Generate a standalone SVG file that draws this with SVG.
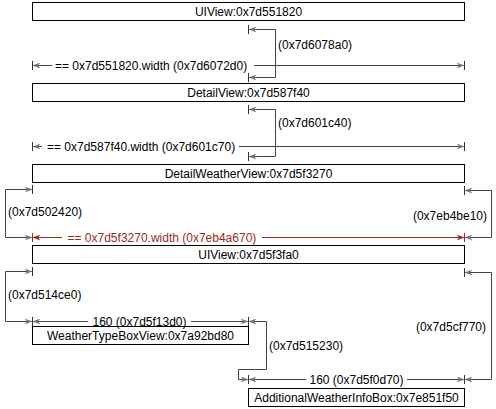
<svg xmlns="http://www.w3.org/2000/svg" width="496" height="409" viewBox="0 0 496 409">
<style>
.box{fill:#fff;stroke:#000;stroke-width:1}
.t{font-family:"Liberation Sans",Arial,sans-serif;font-size:12px;fill:#000}
.c{text-anchor:middle}
.e{text-anchor:end}
.ln{fill:none;stroke:#444;stroke-width:1}
.rl{fill:none;stroke:#a0291d;stroke-width:1}
.tk{stroke:#333;stroke-width:1}
.rtk{stroke:#a0291d;stroke-width:1}
.rt{fill:#a0291d}
</style>
<defs>
<marker id="a" markerUnits="userSpaceOnUse" markerWidth="8" markerHeight="6" refX="8" refY="3" orient="auto-start-reverse"><path d="M0,0 L8,3 L0,6 L2.5,3 z" fill="#777"/></marker>
<marker id="r" markerUnits="userSpaceOnUse" markerWidth="8" markerHeight="6" refX="8" refY="3" orient="auto-start-reverse"><path d="M0,0 L8,3 L0,6 L2.5,3 z" fill="#a0291d"/></marker>
</defs>
<g id="n1"><rect class="box" x="32.5" y="2.5" width="432" height="18"/><text class="t c" x="248.5" y="15.8">UIView:0x7d551820</text></g>
<g id="n2"><rect class="box" x="32.5" y="83.5" width="432" height="18"/><text class="t c" x="248.5" y="96.8">DetailView:0x7d587f40</text></g>
<g id="n3"><rect class="box" x="32.5" y="164.5" width="432" height="18"/><text class="t c" x="248.5" y="177.8">DetailWeatherView:0x7d5f3270</text></g>
<g id="n4"><rect class="box" x="32.5" y="245.5" width="432" height="18"/><text class="t c" x="248.5" y="258.8">UIView:0x7d5f3fa0</text></g>
<g id="n5"><rect class="box" x="32.5" y="326.5" width="216" height="18"/><text class="t c" x="140.5" y="339.8">WeatherTypeBoxView:0x7a92bd80</text></g>
<g id="n6"><rect class="box" x="248.5" y="388.5" width="216" height="18"/><text class="t c" x="356.5" y="401.8">AdditionalWeatherInfoBox:0x7e851f50</text></g>
<g id="connectors">
<!-- C1 -->
<path class="ln" d="M248.5,29.5 H275.5 V77.5 H248.5" marker-start="url(#a)" marker-end="url(#a)"/>
<line class="tk" x1="248.5" y1="25" x2="248.5" y2="34"/>
<line class="tk" x1="248.5" y1="73" x2="248.5" y2="82"/>
<text class="t" x="278" y="48.5">(0x7d6078a0)</text>
<!-- W1 -->
<path class="ln" d="M52,65.5 H32.5" marker-end="url(#a)"/>
<path class="ln" d="M254,65.5 H464.5" marker-end="url(#a)"/>
<line class="tk" x1="32.5" y1="61" x2="32.5" y2="70"/>
<line class="tk" x1="464.5" y1="61" x2="464.5" y2="70"/>
<text class="t" x="55" y="69.8">== 0x7d551820.width (0x7d6072d0)</text>
<!-- C2 -->
<path class="ln" d="M248.5,109.5 H275.5 V156.5 H248.5" marker-start="url(#a)" marker-end="url(#a)"/>
<line class="tk" x1="248.5" y1="105" x2="248.5" y2="114"/>
<line class="tk" x1="248.5" y1="152" x2="248.5" y2="161"/>
<text class="t" x="278" y="127">(0x7d601c40)</text>
<!-- W2 -->
<path class="ln" d="M42,146.5 H32.5" marker-end="url(#a)"/>
<path class="ln" d="M239,146.5 H464.5" marker-end="url(#a)"/>
<line class="tk" x1="32.5" y1="142" x2="32.5" y2="151"/>
<line class="tk" x1="464.5" y1="142" x2="464.5" y2="151"/>
<text class="t" x="47" y="150.8">== 0x7d587f40.width (0x7d601c70)</text>
<!-- C3 left -->
<path class="ln" d="M32.5,189.5 H5.5 V237.5 H32.5" marker-start="url(#a)" marker-end="url(#a)"/>
<line class="tk" x1="32.5" y1="185" x2="32.5" y2="194"/>
<text class="t" x="8" y="216">(0x7d502420)</text>
<!-- C3 right -->
<path class="ln" d="M464.5,190.5 H491.5 V237.5 H464.5" marker-start="url(#a)" marker-end="url(#a)"/>
<line class="tk" x1="464.5" y1="186" x2="464.5" y2="195"/>
<text class="t e" x="487" y="220">(0x7eb4be10)</text>
<!-- W3 red -->
<path class="rl" d="M62,237.5 H32.5" marker-end="url(#r)"/>
<path class="rl" d="M262,237.5 H464.5" marker-end="url(#r)"/>
<line class="rtk" x1="32.5" y1="233" x2="32.5" y2="242"/>
<line class="rtk" x1="464.5" y1="233" x2="464.5" y2="242"/>
<text class="t rt" x="67.5" y="241.8">== 0x7d5f3270.width (0x7eb4a670)</text>
<!-- C4 left -->
<path class="ln" d="M32.5,271.5 H5.5 V321.5 H32.5" marker-start="url(#a)" marker-end="url(#a)"/>
<line class="tk" x1="32.5" y1="267" x2="32.5" y2="276"/>
<line class="tk" x1="32.5" y1="317" x2="32.5" y2="326"/>
<text class="t" x="8" y="299">(0x7d514ce0)</text>
<!-- C4 right -->
<path class="ln" d="M464.5,272.5 H491.5 V379.5 H464.5" marker-start="url(#a)" marker-end="url(#a)"/>
<line class="tk" x1="464.5" y1="268" x2="464.5" y2="277"/>
<line class="tk" x1="464.5" y1="375" x2="464.5" y2="384"/>
<text class="t e" x="486" y="331">(0x7d5cf770)</text>
<!-- W4 -->
<path class="ln" d="M88,321.5 H32.5" marker-end="url(#a)"/>
<path class="ln" d="M191,321.5 H248.5" marker-end="url(#a)"/>
<line class="tk" x1="248.5" y1="317" x2="248.5" y2="326"/>
<text class="t c" x="139.5" y="325.8">160 (0x7d5f13d0)</text>
<!-- C5 -->
<path class="ln" d="M248.5,321.5 H266.5 V369.5 H238.5 V379.5 H248.5" marker-start="url(#a)" marker-end="url(#a)"/>
<line class="tk" x1="248.5" y1="375" x2="248.5" y2="384"/>
<text class="t" x="269" y="350">(0x7d515230)</text>
<!-- W5 -->
<path class="ln" d="M306,379.5 H248.5" marker-end="url(#a)"/>
<path class="ln" d="M407,379.5 H464.5" marker-end="url(#a)"/>
<text class="t c" x="356.5" y="383.8">160 (0x7d5f0d70)</text>
</g>
</svg>
